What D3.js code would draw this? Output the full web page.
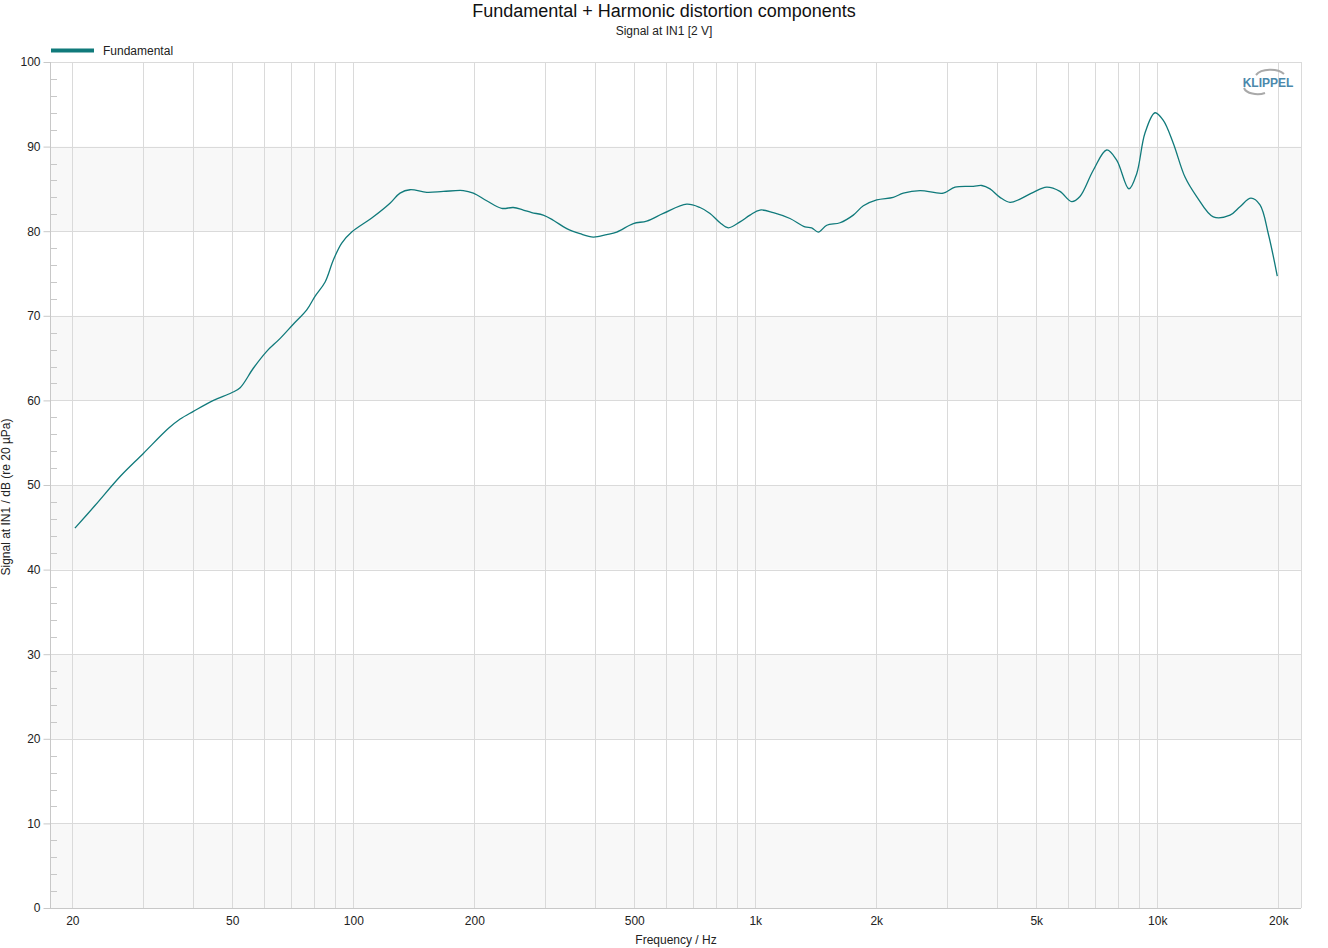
<!DOCTYPE html>
<html><head><meta charset="utf-8">
<script src="https://cdn.jsdelivr.net/npm/d3@7"></script>
<style>body{margin:0;background:#fff;font-family:"Liberation Sans",Arial,sans-serif}</style>
</head><body><svg id="c" width="1328" height="948"></svg>
<script>
const freqs = [20.3,22.8,26.3,30.0,34.7,37.1,40.0,44.9,49.8,52.3,56.4,60.9,65.7,70.9,76.6,80.3,85.1,89.2,93.6,99.1,112.2,123.4,130.7,138.4,152.3,167.5,187.8,198.9,214.7,234.0,250.0,264.8,277.9,296.8,314.4,339.6,366.4,395.4,427.0,452.2,497.3,536.9,590.4,675.2,728.6,771.6,817.2,856.8,916.2,970.2,1027,1109,1220,1329,1381,1435,1506,1625,1753,1857,2005,2204,2335,2570,2936,3140,3487,3659,3837,4062,4302,4556,4916,5307,5727,6124,6422,6931,7484,7925,8504,8888,9321,9870,10352,10960,11722,12532,13784,15170,16062,17106,18012,18888,19886];
const fundamental = [44.9,47.6,51.0,53.7,56.7,57.8,58.7,60.0,60.9,61.5,63.8,65.8,67.3,69.0,70.7,72.3,74.0,76.6,78.6,79.9,81.7,83.3,84.5,84.9,84.6,84.7,84.8,84.5,83.6,82.7,82.8,82.5,82.2,81.9,81.3,80.3,79.7,79.3,79.6,79.9,80.9,81.2,82.1,83.2,82.8,82.1,81.0,80.4,81.1,81.9,82.5,82.2,81.5,80.5,80.4,79.9,80.7,81.0,81.9,83.0,83.7,84.0,84.5,84.8,84.5,85.2,85.3,85.4,85.0,84.0,83.4,83.8,84.6,85.2,84.7,83.5,84.1,87.2,89.6,88.4,85.0,86.8,91.6,94.0,93.1,90.4,86.4,84.1,81.7,81.9,82.9,83.9,83.1,79.7,74.7];
const xTickValues = [20,50,100,200,500,1000,2000,5000,10000,20000];
const xTickLabels = ["20","50","100","200","500","1k","2k","5k","10k","20k"];
const yTickValues = [0,10,20,30,40,50,60,70,80,90,100];
const xGrid = [20,30,40,50,60,70,80,90,100,200,300,400,500,600,700,800,900,1000,2000,3000,4000,5000,6000,7000,8000,9000,10000,20000];
const bands = [[80,90],[60,70],[40,50],[20,30],[0,10]];

const L=50,R=1301,T=62,B=908;
const svg=d3.select("#c");
const x=d3.scaleLog().domain([17.6,22780]).range([L,R]);
const y=d3.scaleLinear().domain([0,100]).range([B,T]);
const col="#107a7b", grid="#dadada";

svg.append("g").selectAll("rect").data(bands).join("rect")
  .attr("x",L).attr("width",R-L).attr("y",d=>y(d[1])).attr("height",d=>y(d[0])-y(d[1])).attr("fill","#f8f8f8");
svg.append("g").selectAll("line").data(xGrid).join("line")
  .attr("x1",d=>Math.round(x(d))+0.5).attr("x2",d=>Math.round(x(d))+0.5).attr("y1",T).attr("y2",B)
  .attr("stroke",grid).attr("stroke-width",1);
svg.append("g").selectAll("line").data(yTickValues).join("line")
  .attr("x1",L).attr("x2",R).attr("y1",d=>Math.round(y(d))+0.5).attr("y2",d=>Math.round(y(d))+0.5)
  .attr("stroke",grid);
svg.append("line").attr("x1",R+0.5).attr("x2",R+0.5).attr("y1",T).attr("y2",B).attr("stroke",grid);
svg.append("line").attr("x1",L+0.5).attr("x2",L+0.5).attr("y1",T).attr("y2",B).attr("stroke","#c8c8c8");
svg.append("line").attr("x1",L).attr("x2",R).attr("y1",B+0.5).attr("y2",B+0.5).attr("stroke","#c8c8c8");

const yAxis=d3.axisLeft(y).tickValues(yTickValues).tickSize(7).tickPadding(3).tickFormat(d3.format("d"));
const ga=svg.append("g").attr("transform",`translate(${L+0.5},0)`).call(yAxis);
ga.select(".domain").remove();
ga.selectAll("line").attr("stroke","#c8c8c8");
ga.selectAll("text").attr("font-size",12).attr("fill","#222").attr("font-family","Liberation Sans, Arial, sans-serif");
const minor=d3.range(0,100,2).filter(v=>v%10!==0);
svg.append("g").selectAll("line").data(minor).join("line")
  .attr("x1",L).attr("x2",L+7).attr("y1",d=>Math.round(y(d))+0.5).attr("y2",d=>Math.round(y(d))+0.5).attr("stroke","#c8c8c8");

const xAxis=d3.axisBottom(x).tickValues(xTickValues).tickSize(0).tickPadding(8).tickFormat((d,i)=>xTickLabels[i]);
const gx=svg.append("g").attr("transform",`translate(0,${B})`).call(xAxis);
gx.select(".domain").remove();
gx.selectAll("text").attr("font-size",12).attr("fill","#222").attr("font-family","Liberation Sans, Arial, sans-serif");

const pts=freqs.map((f,i)=>[f,fundamental[i]]);
svg.append("path").datum(pts).attr("fill","none").attr("stroke",col).attr("stroke-width",1.3)
  .attr("d",d3.line().x(d=>x(d[0])).y(d=>y(d[1])).curve(d3.curveCatmullRom.alpha(0.5)));

svg.append("text").attr("x",664).attr("y",17).attr("text-anchor","middle").attr("font-size",18).attr("fill","#111").text("Fundamental + Harmonic distortion components");
svg.append("text").attr("x",664).attr("y",35).attr("text-anchor","middle").attr("font-size",12).attr("fill","#222").text("Signal at IN1 [2 V]");
svg.append("text").attr("x",676).attr("y",944).attr("text-anchor","middle").attr("font-size",12).attr("fill","#222").text("Frequency / Hz");
svg.append("text").attr("transform","translate(10,497) rotate(-90)").attr("text-anchor","middle").attr("font-size",12).attr("fill","#222").text("Signal at IN1 / dB (re 20 µPa)");

svg.append("line").attr("x1",51).attr("x2",94).attr("y1",50.5).attr("y2",50.5).attr("stroke",col).attr("stroke-width",4);
svg.append("text").attr("x",103).attr("y",55).attr("font-size",12).attr("fill","#222").text("Fundamental");

const lg=svg.append("g");
lg.append("path").attr("d","M1256,75 A16,9 0 0 1 1284,74").attr("fill","none").attr("stroke","#a9a9a9").attr("stroke-width",2);
lg.append("path").attr("d","M1244,88 A14,8 0 0 0 1265,93").attr("fill","none").attr("stroke","#a9a9a9").attr("stroke-width",2);
lg.append("text").attr("x",1268).attr("y",87).attr("text-anchor","middle").attr("font-size",12).attr("font-weight","bold").attr("fill","#4b88ab").text("KLIPPEL");
</script></body></html>
